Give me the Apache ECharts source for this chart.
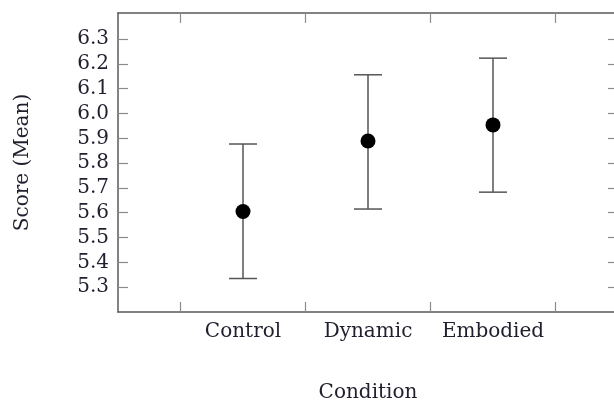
<!DOCTYPE html>
<html>
<head>
<meta charset="utf-8">
<script src="https://cdn.jsdelivr.net/npm/echarts@6/dist/echarts.min.js"></script>
<style>html,body{margin:0;padding:0;background:#fff;}#c{width:614px;height:401px;}</style>
</head>
<body>
<div id="c"></div>
<script>
var categories = ['Control', 'Dynamic', 'Embodied'];
var means = [5.605, 5.889, 5.954];
var lower = [5.335, 5.615, 5.683];
var upper = [5.877, 6.156, 6.223];
var yTickLabels = [5.3, 5.4, 5.5, 5.6, 5.7, 5.8, 5.9, 6.0, 6.1, 6.2, 6.3];
var xTickPositions = [0.5, 1.5, 2.5, 3.5];

var FONT = 'DejaVu Serif';
var TXT = '#1f1f2e';
var AX = '#5a5a5a';

var catPos = categories.map(function (c, i) { return i + 1; });
var pts = categories.map(function (c, i) { return [catPos[i], means[i]]; });
var errs = categories.map(function (c, i) { return [catPos[i], lower[i], upper[i]]; });

var chart = echarts.init(document.getElementById('c'), null, {renderer: 'canvas'});
var tickStyle = {inside: true, length: 10, lineStyle: {color: '#8a8a8a', width: 1.2}};
chart.setOption({
  animation: false,
  grid: {left: 118, top: 13, width: 500, height: 299, containLabel: false, outerBoundsMode: 'none'},
  xAxis: [{
    type: 'value', min: 0, max: 4, position: 'bottom',
    name: 'Condition', nameLocation: 'middle', nameGap: 71,
    nameTextStyle: {fontFamily: FONT, fontSize: 20, color: TXT},
    axisLine: {show: true, onZero: false, lineStyle: {color: AX, width: 1.5}},
    axisTick: Object.assign({customValues: xTickPositions}, tickStyle),
    axisLabel: {customValues: catPos, fontFamily: FONT, fontSize: 20, color: TXT, margin: 10,
      formatter: function (v) { return categories[Math.round(v) - 1] || ''; }},
    splitLine: {show: false}
  }, {
    type: 'value', min: 0, max: 4, position: 'top',
    axisLine: {show: true, onZero: false, lineStyle: {color: AX, width: 1.5}},
    axisTick: Object.assign({customValues: xTickPositions}, tickStyle),
    axisLabel: {show: false},
    splitLine: {show: false}
  }],
  yAxis: [{
    type: 'value', min: 5.2, max: 6.405, position: 'left',
    name: 'Score (Mean)', nameLocation: 'middle', nameGap: 85,
    nameTextStyle: {fontFamily: FONT, fontSize: 20, color: TXT},
    axisLine: {show: true, onZero: false, lineStyle: {color: AX, width: 1.5}},
    axisTick: Object.assign({customValues: yTickLabels}, tickStyle),
    axisLabel: {customValues: yTickLabels, fontFamily: FONT, fontSize: 20, color: TXT, margin: 9,
      formatter: function (v) { return v.toFixed(1); }},
    splitLine: {show: false}
  }, {
    type: 'value', min: 5.2, max: 6.405, position: 'right',
    axisLine: {show: true, onZero: false, lineStyle: {color: AX, width: 1.5}},
    axisTick: Object.assign({customValues: yTickLabels}, tickStyle),
    axisLabel: {show: false},
    splitLine: {show: false}
  }],
  series: [{
    type: 'custom',
    xAxisIndex: 0, yAxisIndex: 0,
    data: errs,
    renderItem: function (params, api) {
      var x = api.value(0);
      var lo = api.coord([x, api.value(1)]);
      var hi = api.coord([x, api.value(2)]);
      var cap = 14;
      var st = {stroke: '#555', lineWidth: 1.5};
      return {type: 'group', children: [
        {type: 'line', shape: {x1: lo[0], y1: lo[1], x2: hi[0], y2: hi[1]}, style: st},
        {type: 'line', shape: {x1: lo[0] - cap, y1: lo[1], x2: lo[0] + cap, y2: lo[1]}, style: st},
        {type: 'line', shape: {x1: hi[0] - cap, y1: hi[1], x2: hi[0] + cap, y2: hi[1]}, style: st}
      ]};
    },
    z: 2
  }, {
    type: 'scatter',
    xAxisIndex: 0, yAxisIndex: 0,
    data: pts,
    symbol: 'circle', symbolSize: 15,
    itemStyle: {color: '#000', opacity: 1},
    z: 3
  }]
});
</script>
</body>
</html>
